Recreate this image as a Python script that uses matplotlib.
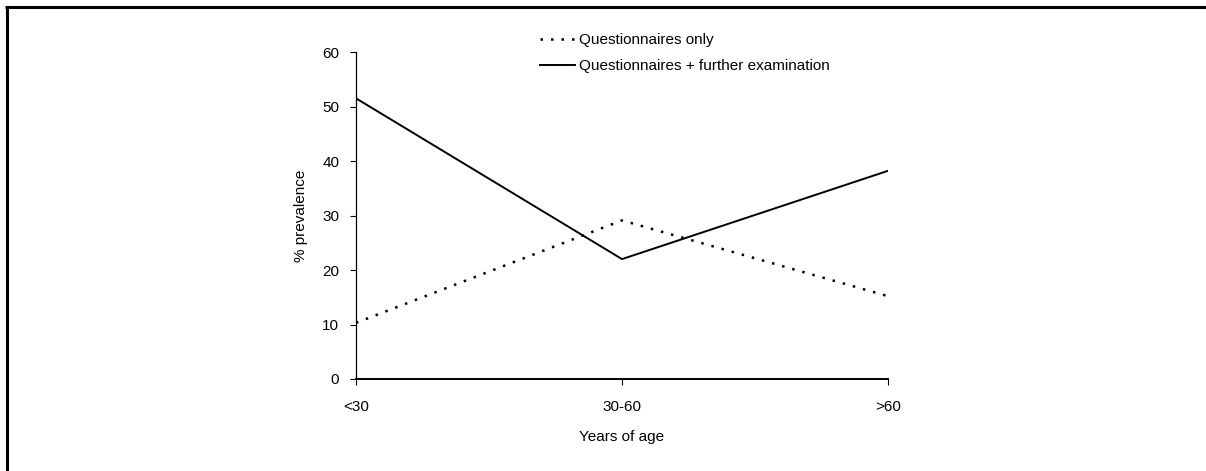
import matplotlib
matplotlib.use("Agg")
import matplotlib.pyplot as plt
from matplotlib.lines import Line2D

# data
age_groups = ["<30", "30-60", ">60"]
questionnaires_only = [10.3, 29.1, 15.2]
questionnaires_plus_exam = [51.5, 22.0, 38.2]
y_ticks = [0, 10, 20, 30, 40, 50, 60]

plt.rcParams["font.family"] = ["Liberation Sans", "DejaVu Sans"]
plt.rcParams["font.size"] = 11

W, H = 1206, 471
fig = plt.figure(figsize=(W / 100, H / 100), dpi=100)
ax = fig.add_axes([356 / W, 1 - 379 / H, (888 - 356) / W, (379 - 52) / H])

x = list(range(len(age_groups)))
ax.plot(x, questionnaires_only, color="black", lw=1.8, linestyle=(0, (1, 3.2)),
        label="Questionnaires only")
ax.plot(x, questionnaires_plus_exam, color="black", lw=1.4,
        label="Questionnaires + further examination")

ax.set_xlim(0, len(age_groups) - 1)
ax.set_ylim(0, 60)
ax.set_xticks(x)
ax.set_xticklabels(age_groups)
ax.set_yticks(y_ticks)
ax.tick_params(axis="both", direction="out", length=4, width=0.8, colors="black", labelsize=11)
ax.tick_params(axis="x", pad=11)
ax.tick_params(axis="y", pad=8)

for side in ["top", "right"]:
    ax.spines[side].set_visible(False)
ax.spines["left"].set_linewidth(0.9)
ax.spines["bottom"].set_linewidth(1.4)

ax.set_xlabel("Years of age", labelpad=12)
ax.set_ylabel("% prevalence", labelpad=10)

leg = ax.legend(loc="upper left", bbox_to_anchor=(540 / W, 1 - 33 / H),
                bbox_transform=fig.transFigure, frameon=False, borderpad=0,
                borderaxespad=0, handlelength=2.3, handletextpad=0.25,
                labelspacing=0.8)

# frame of the original figure (only top and left edges remain)
fig.add_artist(Line2D([6.5 / W, 6.5 / W], [0, 1 - 6.5 / H], transform=fig.transFigure,
                      color="black", lw=2.2, solid_capstyle="butt"))
fig.add_artist(Line2D([5 / W, 1], [1 - 7 / H, 1 - 7 / H], transform=fig.transFigure,
                      color="black", lw=2.2, solid_capstyle="butt"))

fig.savefig("out.png", dpi=100)
plt.close(fig)
